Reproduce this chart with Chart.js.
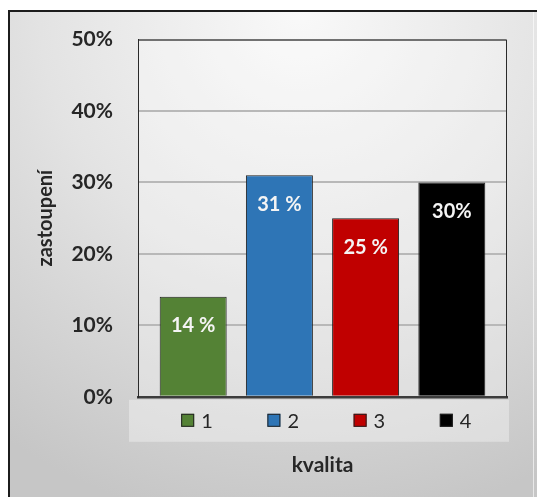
<!DOCTYPE html>
<html>
<head>
<meta charset="utf-8">
<script src="https://cdn.jsdelivr.net/npm/chart.js@4/dist/chart.umd.min.js"></script>
<style>
  html, body { margin: 0; padding: 0; background: #fff; }
  #wrap { width: 537px; height: 497px; position: relative; }
</style>
</head>
<body>
<div id="wrap"><canvas id="c" width="537" height="497"></canvas></div>
<script>
// kvalita -> zastoupení (%)
const categories = ['1', '2', '3', '4'];
const shares = [14, 31, 25, 30];
const shareLabels = ['14 %', '31 %', '25 %', '30%'];
const barColors = ['#548235', '#2e75b6', '#c00000', '#000000'];
const yTicks = [0, 10, 20, 30, 40, 50];

const FONT = 'Lato, "Open Sans", sans-serif';

// backdrop: framed panel with soft gradient, lighter plot + legend strip
const backdrop = {
  id: 'backdrop',
  beforeDraw(chart) {
    const { ctx, chartArea: a, width, height } = chart;
    ctx.save();
    ctx.fillStyle = '#ffffff';
    ctx.fillRect(0, 0, width, height);
    const g = ctx.createRadialGradient(300, 10, 0, 300, 10, 520);
    g.addColorStop(0, '#f9f9f9');
    g.addColorStop(0.5, '#e3e3e3');
    g.addColorStop(1, '#c6c6c6');
    ctx.fillStyle = g;
    ctx.fillRect(8, 10, width - 8, height - 10);
    ctx.strokeStyle = '#1c1c1c';
    ctx.lineWidth = 2;
    ctx.beginPath();
    ctx.moveTo(9, height);
    ctx.lineTo(9, 11);
    ctx.lineTo(width, 11);
    ctx.stroke();
    ctx.strokeStyle = 'rgba(255,255,255,0.6)';
    ctx.lineWidth = 1;
    ctx.beginPath();
    ctx.moveTo(533.5, 12);
    ctx.lineTo(533.5, height);
    ctx.stroke();
    // plot area
    ctx.fillStyle = 'rgba(255,255,255,0.28)';
    ctx.fillRect(a.left, a.top, a.right - a.left, a.bottom - a.top);
    // legend strip
    ctx.fillStyle = 'rgba(255,255,255,0.35)';
    ctx.fillRect(a.left - 9, a.bottom + 3, a.right - a.left + 11, 42);
    ctx.restore();
  },
  afterDraw(chart) {
    const { ctx, chartArea: a } = chart;
    const xs = chart.scales.x;
    ctx.save();
    // plot frame (top / right / left)
    ctx.strokeStyle = '#2a2a2a';
    ctx.lineWidth = 1;
    ctx.beginPath();
    ctx.moveTo(a.left + 0.5, a.bottom);
    ctx.lineTo(a.left + 0.5, a.top + 0.5);
    ctx.lineTo(a.right - 0.5, a.top + 0.5);
    ctx.lineTo(a.right - 0.5, a.bottom);
    ctx.stroke();
    // legend below each category
    ctx.font = '20px ' + FONT;
    ctx.textBaseline = 'middle';
    ctx.textAlign = 'left';
    categories.forEach((c, i) => {
      const cx = xs.getPixelForValue(i);
      const by = a.bottom + 17;
      ctx.fillStyle = barColors[i];
      ctx.fillRect(cx - 12, by, 13, 13);
      ctx.strokeStyle = '#222';
      ctx.strokeRect(cx - 11.5, by + 0.5, 12, 12);
      ctx.fillStyle = '#262626';
      ctx.fillText(c, cx + 8, a.bottom + 25);
    });
    ctx.restore();
  }
};

// value labels inside the top of each bar
const barValues = {
  id: 'barValues',
  afterDatasetsDraw(chart) {
    const { ctx } = chart;
    const meta = chart.getDatasetMeta(0);
    ctx.save();
    ctx.font = 'bold 20px ' + FONT;
    ctx.fillStyle = '#f4f4f4';
    ctx.textAlign = 'center';
    ctx.textBaseline = 'middle';
    meta.data.forEach((bar, i) => {
      ctx.fillText(shareLabels[i], bar.x, bar.y + 29);
    });
    ctx.restore();
  }
};

new Chart(document.getElementById('c'), {
  type: 'bar',
  data: {
    datasets: [{
      data: categories.map((c, i) => ({ x: i, y: shares[i] })),
      backgroundColor: barColors,
      borderColor: '#1e1e1e',
      borderWidth: 1,
      categoryPercentage: 1,
      barPercentage: 0.777
    }]
  },
  options: {
    responsive: false,
    animation: false,
    devicePixelRatio: 1,
    layout: { padding: { left: 34, right: 30, top: 39.5, bottom: 19 } },
    plugins: { legend: { display: false }, tooltip: { enabled: false } },
    scales: {
      x: {
        type: 'linear',
        offset: false,
        min: -0.64,
        max: 3.64,
        afterBuildTicks(scale) { scale.ticks = categories.map((c, i) => ({ value: i })); },
        ticks: { display: false },
        grid: { display: false, drawTicks: false },
        border: { display: true, color: '#3c3c3c', width: 2.5 },
        title: {
          display: true,
          text: 'kvalita',
          color: '#262626',
          font: { family: FONT, size: 21, weight: 'bold' },
          padding: { top: 56, bottom: 0 }
        }
      },
      y: {
        min: 0,
        max: 50,
        afterBuildTicks(scale) { scale.ticks = yTicks.map(v => ({ value: v })); },
        afterFit(scale) { scale.width = 104; },
        ticks: {
          padding: 25,
          color: '#262626',
          font: { family: FONT, size: 21, weight: 'bold' },
          callback: v => v + '%'
        },
        grid: { color: '#b8b8b8', lineWidth: 2, drawTicks: false },
        border: { display: true, color: '#2a2a2a', width: 1 },
        title: {
          display: true,
          text: 'zastoupení',
          color: '#262626',
          font: { family: FONT, size: 20, weight: 'bold' },
          padding: { top: 0, bottom: 0 }
        }
      }
    }
  },
  plugins: [backdrop, barValues]
});
</script>
</body>
</html>
